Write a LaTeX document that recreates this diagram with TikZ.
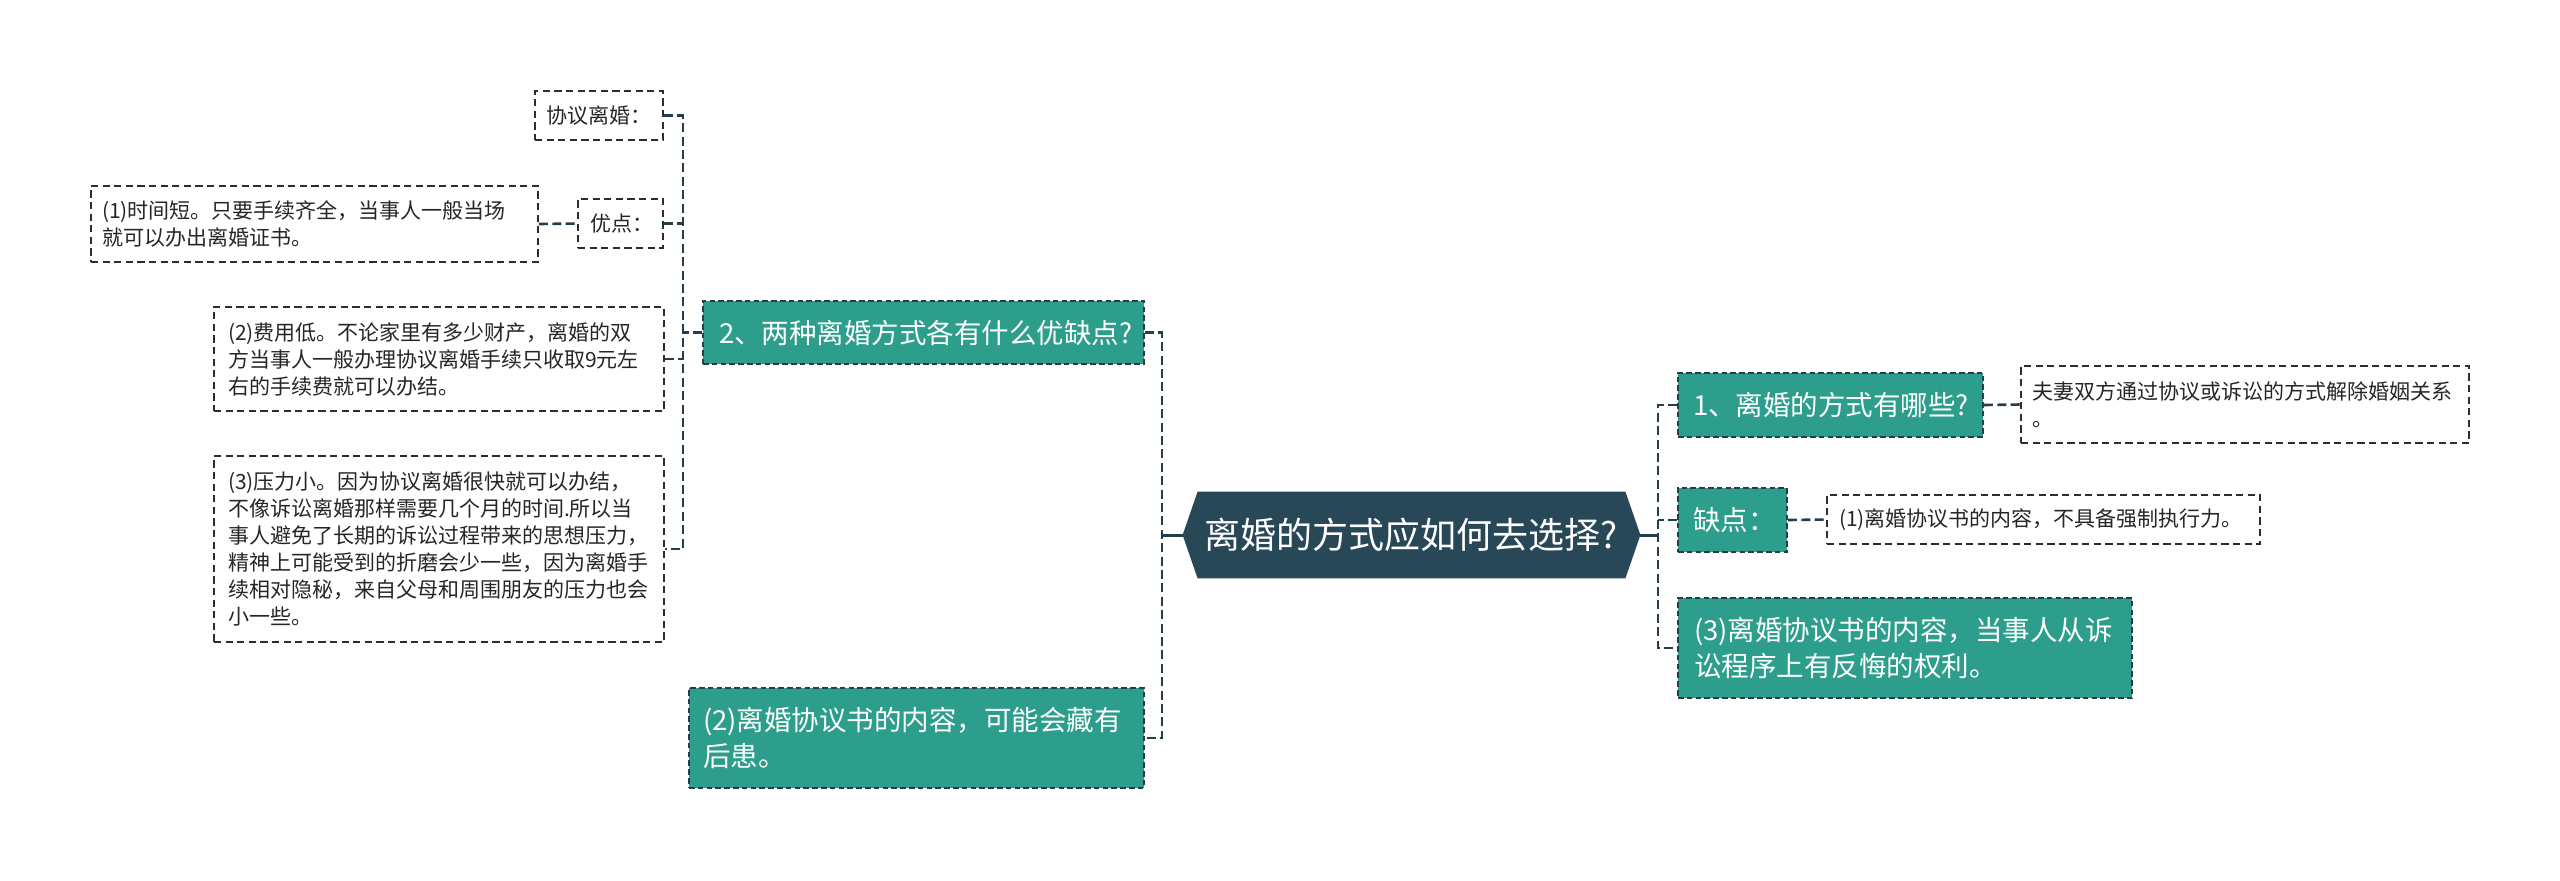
\documentclass[tikz,border=0pt]{standalone}
\usepackage{fontspec}
\setmainfont{Noto Sans CJK SC}
\usetikzlibrary{backgrounds}
\definecolor{tealc}{RGB}{44,158,139}
\definecolor{rootc}{RGB}{40,72,87}
\definecolor{linec}{RGB}{38,62,75}
\definecolor{leafc}{RGB}{45,45,45}
\tikzset{
  conn/.style={draw=linec, line width=1.3pt, dash pattern=on 4.5pt off 2.2pt},
  rootline/.style={draw=linec, line width=1.5pt},
  tealbox/.style={fill=tealc, draw=linec, line width=0.9pt, dash pattern=on 2.8pt off 1.6pt,
    text=white, font=\fontsize{13.75pt}{18pt}\selectfont, align=left, inner ysep=0pt},
  leafbox/.style={fill=white, draw=leafc, line width=0.9pt, dash pattern=on 3.6pt off 2.2pt,
    text=black!85, font=\fontsize{10.5pt}{13.5pt}\selectfont, align=left, inner ysep=0pt},
  rootbox/.style={text=white, font=\fontsize{18pt}{22pt}\selectfont, align=center,
    minimum width=213.5pt, minimum height=43pt, inner sep=0pt},
}
\begin{document}
\begin{tikzpicture}[x=0.5pt,y=-0.5pt]
\useasboundingbox (0,0) rectangle (2560,880);
% root
\node[rootbox] (root) at (1411.5,535) {离婚的方式应如何去选择?};
\begin{scope}[on background layer]
\fill[rootc] (root.north west) -- (root.north east) -- ([xshift=7.5pt]root.east)
  -- (root.south east) -- (root.south west) -- ([xshift=-7.5pt]root.west) -- cycle;
\end{scope}
\coordinate (rootL) at ([xshift=-7.5pt]root.west);
\coordinate (rootR) at ([xshift=7.5pt]root.east);
% left main branch
\node[tealbox, minimum width=220.5pt, minimum height=31.5pt, inner xsep=8pt, text width=204.5pt]
  (q2) at (923.5,332.5) {2、两种离婚方式各有什么优缺点?};
\node[tealbox, minimum width=227.5pt, minimum height=50pt, inner xsep=7pt, text width=213.5pt]
  (l2) at (916.5,738) {(2)离婚协议书的内容，可能会藏有\\后患。};
% leaves of q2
\node[leafbox, minimum width=64pt, minimum height=24.5pt, inner xsep=5.5pt, text width=53pt]
  (xy) at (599,115.5) {协议离婚：};
\node[leafbox, minimum width=42.5pt, minimum height=24.5pt, inner xsep=6pt, text width=30.5pt]
  (yd) at (620.5,223.5) {优点：};
\node[leafbox, minimum width=223.5pt, minimum height=38pt, inner xsep=5.5pt, text width=212.5pt]
  (p1) at (314.5,224) {(1)时间短。只要手续齐全，当事人一般当场\\就可以办出离婚证书。};
\node[leafbox, minimum width=225pt, minimum height=52pt, inner xsep=7pt, text width=211pt]
  (p2) at (439,359) {(2)费用低。不论家里有多少财产，离婚的双\\方当事人一般办理协议离婚手续只收取9元左\\右的手续费就可以办结。};
\node[leafbox, minimum width=225pt, minimum height=93pt, inner xsep=7pt, text width=211pt]
  (p3) at (439,549) {(3)压力小。因为协议离婚很快就可以办结，\\不像诉讼离婚那样需要几个月的时间.所以当\\事人避免了长期的诉讼过程带来的思想压力，\\精神上可能受到的折磨会少一些，因为离婚手\\续相对隐秘，来自父母和周围朋友的压力也会\\小一些。};
% right branch
\node[tealbox, minimum width=152.5pt, minimum height=32pt, inner xsep=7.5pt, text width=137.5pt]
  (r1) at (1830.5,405) {1、离婚的方式有哪些?};
\node[tealbox, minimum width=54.5pt, minimum height=32pt, inner xsep=7.5pt, text width=39.5pt]
  (r2) at (1732.5,520) {缺点：};
\node[tealbox, minimum width=227pt, minimum height=50pt, inner xsep=8pt, text width=211pt]
  (r3) at (1905,648) {(3)离婚协议书的内容，当事人从诉\\讼程序上有反悔的权利。};
\node[leafbox, minimum width=224pt, minimum height=38.5pt, inner xsep=5.5pt, text width=213pt]
  (d1) at (2245,404.5) {夫妻双方通过协议或诉讼的方式解除婚姻关系\\。};
\node[leafbox, minimum width=216.5pt, minimum height=24.5pt, inner xsep=6pt, text width=204.5pt]
  (d2) at (2043.5,519.5) {(1)离婚协议书的内容，不具备强制执行力。};
% trunk coordinates
\coordinate (lt) at (1162,535);
\coordinate (rt) at (1658,535);
\coordinate (st) at (683,332.5);
% connectors
\draw[rootline] (rootL) -- (lt);
\draw[rootline] (rootR) -- (rt);
\draw[conn] (q2.east) -| (lt) |- (l2.east);
\draw[conn] (r1.west) -| (rt) |- (r3.west);
\draw[conn] (r2.west) -- (r2.west -| rt);
\draw[conn] (xy.east) -| (st) |- (p3.east);
\draw[conn] (q2.west) -- (st);
\draw[conn] (yd.east) -- (yd.east -| st);
\draw[conn] (p2.east) -- (p2.east -| st);
\draw[conn] (p1.east) -- (yd.west);
\draw[conn] (r1.east) -- (d1.west);
\draw[conn] (r2.east) -- (d2.west);
\end{tikzpicture}
\end{document}
